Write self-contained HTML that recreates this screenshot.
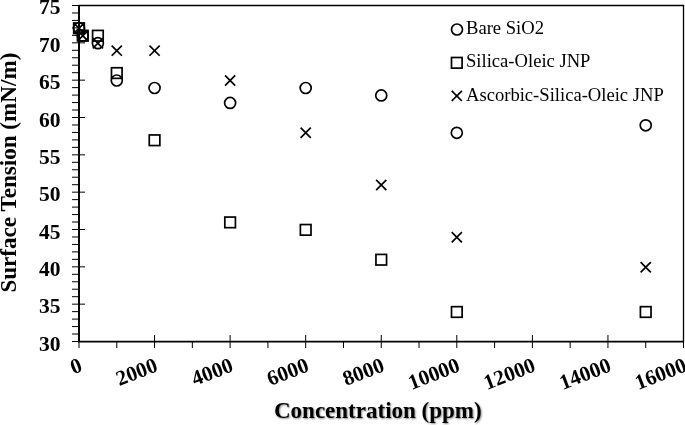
<!DOCTYPE html>
<html><head><meta charset="utf-8"><style>
html,body{margin:0;padding:0;background:#fff;width:685px;height:425px;overflow:hidden}
svg{display:block;will-change:transform}
text{font-family:"Liberation Serif",serif}
</style></head><body>
<svg width="685" height="425" viewBox="0 0 685 425">
<rect width="685" height="425" fill="#fff"/>
<g stroke="#000" stroke-width="1" fill="none">
<path d="M72 341.50H85"/>
<path d="M72 334.03H78"/>
<path d="M72 326.57H78"/>
<path d="M72 319.10H78"/>
<path d="M72 311.63H78"/>
<path d="M72 304.17H85"/>
<path d="M72 296.70H78"/>
<path d="M72 289.23H78"/>
<path d="M72 281.77H78"/>
<path d="M72 274.30H78"/>
<path d="M72 266.83H85"/>
<path d="M72 259.37H78"/>
<path d="M72 251.90H78"/>
<path d="M72 244.43H78"/>
<path d="M72 236.97H78"/>
<path d="M72 229.50H85"/>
<path d="M72 222.03H78"/>
<path d="M72 214.57H78"/>
<path d="M72 207.10H78"/>
<path d="M72 199.63H78"/>
<path d="M72 192.17H85"/>
<path d="M72 184.70H78"/>
<path d="M72 177.23H78"/>
<path d="M72 169.77H78"/>
<path d="M72 162.30H78"/>
<path d="M72 154.83H85"/>
<path d="M72 147.37H78"/>
<path d="M72 139.90H78"/>
<path d="M72 132.43H78"/>
<path d="M72 124.97H78"/>
<path d="M72 117.50H85"/>
<path d="M72 110.03H78"/>
<path d="M72 102.57H78"/>
<path d="M72 95.10H78"/>
<path d="M72 87.63H78"/>
<path d="M72 80.17H85"/>
<path d="M72 72.70H78"/>
<path d="M72 65.23H78"/>
<path d="M72 57.77H78"/>
<path d="M72 50.30H78"/>
<path d="M72 42.83H85"/>
<path d="M72 35.37H78"/>
<path d="M72 27.90H78"/>
<path d="M72 20.43H78"/>
<path d="M72 12.97H78"/>
<path d="M72 5.50H85"/>
<path d="M79.00 335V348"/>
<path d="M116.78 341.5V348"/>
<path d="M154.56 335V348"/>
<path d="M192.34 341.5V348"/>
<path d="M230.12 335V348"/>
<path d="M267.91 341.5V348"/>
<path d="M305.69 335V348"/>
<path d="M343.47 341.5V348"/>
<path d="M381.25 335V348"/>
<path d="M419.03 341.5V348"/>
<path d="M456.81 335V348"/>
<path d="M494.59 341.5V348"/>
<path d="M532.38 335V348"/>
<path d="M570.16 341.5V348"/>
<path d="M607.94 335V348"/>
<path d="M645.72 341.5V348"/>
<path d="M683.50 335V348"/>
</g>
<path d="M78.5 5.5H683.5V341.5" stroke="#000" stroke-width="1.3" fill="none"/>
<path d="M79 5V342" stroke="#000" stroke-width="2" fill="none"/>
<path d="M78 341.7H684" stroke="#000" stroke-width="1.8" fill="none"/>
<g font-weight="bold" font-size="21.5" fill="#000">
<text x="60.5" y="350.60" text-anchor="end">30</text>
<text x="60.5" y="313.27" text-anchor="end">35</text>
<text x="60.5" y="275.93" text-anchor="end">40</text>
<text x="60.5" y="238.60" text-anchor="end">45</text>
<text x="60.5" y="201.27" text-anchor="end">50</text>
<text x="60.5" y="163.93" text-anchor="end">55</text>
<text x="60.5" y="126.60" text-anchor="end">60</text>
<text x="60.5" y="89.27" text-anchor="end">65</text>
<text x="60.5" y="51.93" text-anchor="end">70</text>
<text x="60.5" y="13.60" text-anchor="end">75</text>
</g>
<g font-weight="bold" font-size="21.3" fill="#000">
<text transform="translate(83.40 370.80) rotate(-21)" text-anchor="end">0</text>
<text transform="translate(158.96 370.80) rotate(-21)" text-anchor="end">2000</text>
<text transform="translate(234.53 370.80) rotate(-21)" text-anchor="end">4000</text>
<text transform="translate(310.09 370.80) rotate(-21)" text-anchor="end">6000</text>
<text transform="translate(385.65 370.80) rotate(-21)" text-anchor="end">8000</text>
<text transform="translate(461.21 370.80) rotate(-21)" text-anchor="end">10000</text>
<text transform="translate(536.77 370.80) rotate(-21)" text-anchor="end">12000</text>
<text transform="translate(612.34 370.80) rotate(-21)" text-anchor="end">14000</text>
<text transform="translate(687.90 370.80) rotate(-21)" text-anchor="end">16000</text>
</g>
<g stroke="#000" stroke-width="1.7" fill="none">
<rect x="73.70" y="22.95" width="10.6" height="10.6"/>
<rect x="77.48" y="30.42" width="10.6" height="10.6"/>
<rect x="92.59" y="30.42" width="10.6" height="10.6"/>
<rect x="111.48" y="67.75" width="10.6" height="10.6"/>
<rect x="149.26" y="134.95" width="10.6" height="10.6"/>
<rect x="224.82" y="217.08" width="10.6" height="10.6"/>
<rect x="300.39" y="224.55" width="10.6" height="10.6"/>
<rect x="375.95" y="254.42" width="10.6" height="10.6"/>
<rect x="451.51" y="306.68" width="10.6" height="10.6"/>
<rect x="640.42" y="306.68" width="10.6" height="10.6"/>
<circle cx="79.00" cy="28.25" r="5.5"/>
<circle cx="82.78" cy="35.72" r="5.5"/>
<circle cx="97.89" cy="43.18" r="5.5"/>
<circle cx="116.78" cy="80.52" r="5.5"/>
<circle cx="154.56" cy="87.98" r="5.5"/>
<circle cx="230.12" cy="102.92" r="5.5"/>
<circle cx="305.69" cy="87.98" r="5.5"/>
<circle cx="381.25" cy="95.45" r="5.5"/>
<circle cx="456.81" cy="132.78" r="5.5"/>
<circle cx="645.72" cy="125.32" r="5.5"/>
<path d="M73.90 23.15L84.10 33.35M84.10 23.15L73.90 33.35"/>
<path d="M77.68 30.62L87.88 40.82M87.88 30.62L77.68 40.82"/>
<path d="M92.79 38.08L102.99 48.28M102.99 38.08L92.79 48.28"/>
<path d="M111.68 45.55L121.88 55.75M121.88 45.55L111.68 55.75"/>
<path d="M149.46 45.55L159.66 55.75M159.66 45.55L149.46 55.75"/>
<path d="M225.03 75.42L235.22 85.62M235.22 75.42L225.03 85.62"/>
<path d="M300.59 127.68L310.79 137.88M310.79 127.68L300.59 137.88"/>
<path d="M376.15 179.95L386.35 190.15M386.35 179.95L376.15 190.15"/>
<path d="M451.71 232.22L461.91 242.42M461.91 232.22L451.71 242.42"/>
<path d="M640.62 262.08L650.82 272.28M650.82 262.08L640.62 272.28"/>
</g>
<g stroke="#000" stroke-width="1.7" fill="none">
<circle cx="457.00" cy="29.50" r="5.5"/>
<rect x="451.50" y="57.50" width="10.6" height="10.6"/>
<path d="M451.70 90.80L461.90 101.00M461.90 90.80L451.70 101.00"/>
</g>
<g font-size="18.6" fill="#000">
<text x="466" y="33.7">Bare SiO2</text>
<text x="466" y="67.1">Silica-Oleic JNP</text>
<text x="466" y="100.8">Ascorbic-Silica-Oleic JNP</text>
</g>
<text transform="translate(15.7 292.6) rotate(-90)" font-weight="bold" font-size="23.1" fill="#000">Surface Tension (mN/m)</text>
<text x="274" y="418" font-weight="bold" font-size="23" fill="#000" style="text-shadow:1px 1px 2px rgba(0,0,0,.45)">Concentration (ppm)</text>
</svg>
</body></html>
